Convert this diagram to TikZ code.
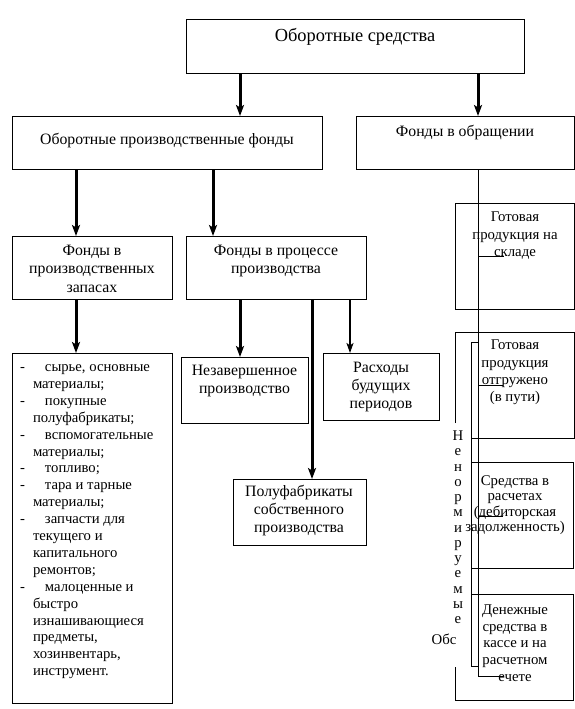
\documentclass[tikz,border=0pt]{standalone}
\usepackage{fontspec}
\setmainfont{Liberation Serif}
\usetikzlibrary{arrows.meta}
\newcommand\ftitle{\fontsize{18.4}{21}\selectfont}
\newcommand\fbody{\fontsize{15.8}{18.3}\selectfont}
\newcommand\flist{\fontsize{14.7}{16.9}\selectfont}
\newcommand\fright{\fontsize{14.8}{17.3}\selectfont}
\newcommand\lidash{\makebox[25pt][l]{-}}
\newcommand\licont{\hspace*{13pt}}
\begin{document}
\begin{tikzpicture}[x=1pt,y=-1pt,
  box/.style={draw, line width=0.8pt, inner sep=0pt, outer sep=0pt, anchor=north west},
  txt/.style={inner sep=0pt, outer sep=0pt, align=center},
  arr/.style={line width=3pt, -{Stealth[length=11pt,width=8pt,inset=2.5pt]}},
  arrthin/.style={line width=2pt, -{Stealth[length=10pt,width=7pt,inset=2.5pt]}},
  thinline/.style={line width=0.8pt}]
\fill[white] (0,0) rectangle (575,709);
\useasboundingbox (0,0) rectangle (575,709);

% boxes
\node[box, minimum width=338pt, minimum height=54pt] (T) at (186,19) {};
\node[box, minimum width=310pt, minimum height=53pt] (A) at (12,116) {};
\node[box, minimum width=218pt, minimum height=53pt] (B) at (356,116) {};
\node[box, minimum width=160pt, minimum height=63pt] (C) at (12,236) {};
\node[box, minimum width=180pt, minimum height=63pt] (D) at (186,236) {};
\node[box, minimum width=160pt, minimum height=350pt] (E) at (12,353) {};
\node[box, minimum width=127pt, minimum height=66pt] (F) at (181,357) {};
\node[box, minimum width=116pt, minimum height=67pt] (G) at (323,353) {};
\node[box, minimum width=133pt, minimum height=66pt] (H) at (233,479) {};
\node[box, minimum width=119pt, minimum height=106pt] (R1) at (455,203) {};

% texts
\node[txt, anchor=base, font=\ftitle] (Tt) at (355,42) {Оборотные средства};
\node[txt, anchor=base, font=\fbody] (At) at (167,144.5) {Оборотные производственные фонды};
\node[txt, anchor=base, font=\fbody] (Bt) at (465,136.5) {Фонды в обращении};
\node[txt, anchor=north, font=\fbody] (Ct) at (92,242.8) {\strut Фонды в\\производственных\\запасах};
\node[txt, anchor=north, font=\fbody] (Dt) at (276,242.8) {\strut Фонды в процессе\\производства};
\node[txt, anchor=north, font=\fbody] (Ft) at (244.5,362.2) {\strut Незавершенное\\производство};
\node[txt, anchor=north, font=\fbody] (Gt) at (381,359.2) {\strut Расходы\\будущих\\периодов};
\node[txt, anchor=north, font=\fbody] (Ht) at (299,483.2) {\strut Полуфабрикаты\\собственного\\производства};
\node[txt, anchor=north west, align=left, font=\flist] (Et) at (20,359.7) {\strut\lidash сырье, основные\\
\licont материалы;\\
\lidash покупные\\
\licont полуфабрикаты;\\
\lidash вспомогательные\\
\licont материалы;\\
\lidash топливо;\\
\lidash тара и тарные\\
\licont материалы;\\
\lidash запчасти для\\
\licont текущего и\\
\licont капитального\\
\licont ремонтов;\\
\lidash малоценные и\\
\licont быстро\\
\licont изнашивающиеся\\
\licont предметы,\\
\licont хозинвентарь,\\
\licont инструмент.};

\node[txt, anchor=north, font=\fontsize{14.8}{17.5}\selectfont] (R1t) at (515,209.4) {\strut Готовая\\продукция на\\складе};
\node[txt, anchor=north, font=\fontsize{14.8}{17.3}\selectfont] (R2t) at (515,337.8) {\strut Готовая\\продукция\\отгружено\\(в пути)};
\node[txt, anchor=north, font=\fontsize{14.8}{15.5}\selectfont] (R3t) at (515,474.6) {\strut Средства в\\расчетах\\(дебиторская\\задолженность)};
\node[txt, anchor=north, font=\fontsize{14.8}{16.7}\selectfont] (R4t) at (515,602.8) {\strut Денежные\\средства в\\кассе и на\\расчетном\\ечете};
\node[txt, anchor=north, font=\fontsize{14.8}{15.25}\selectfont] (Vt) at (458,430) {\strut Н\\е\\н\\о\\р\\м\\и\\р\\у\\е\\м\\ы\\е};
\node[txt, anchor=base, font=\fright] (Ot) at (444,644) {Обс};

% coordinates for connector columns
\coordinate (c76) at (76,0);
\coordinate (c213) at (213,0);
\coordinate (c240) at (240,0);
\coordinate (c312) at (312,0);
\coordinate (c350) at (350,0);
\coordinate (c478) at (478,0);

% arrows
\draw[arr] (T.south -| c240) -- (A.north -| c240);
\draw[arr] (T.south -| c478) -- (B.north -| c478);
\draw[arr] (A.south -| c76) -- (C.north -| c76);
\draw[arr] (A.south -| c213) -- (D.north -| c213);
\draw[arr] (C.south -| c76) -- (E.north -| c76);
\draw[arr] (D.south -| c240) -- (F.north -| c240);
\draw[arr] (D.south -| c312) -- (H.north -| c312);
\draw[arrthin] (D.south -| c350) -- (G.north -| c350);

% right side comb and frames
\coordinate (k1) at (504,256);
\coordinate (k2) at (503,385);
\coordinate (k3) at (503,516);
\coordinate (k4) at (503,676);
\draw[thinline] (B.south -| c478) -- (k4 -| c478) -- (k4);
\draw[thinline] (k1 -| c478) -- (k1);
\draw[thinline] (k2 -| c478) -- (k2);
\draw[thinline] (k3 -| c478) -- (k3);
\draw[thinline] (478,342) -- (471,342) -- (471,666) -- (478,666);
\draw[thinline] (455,423) -- (455,332) -- (574,332) -- (574,438) -- (471,438);
\draw[thinline] (471,462) -- (573,462) -- (573,568) -- (471,568);
\draw[thinline] (471,594) -- (573,594) -- (573,700) -- (455,700) -- (455,667);
\end{tikzpicture}
\end{document}
